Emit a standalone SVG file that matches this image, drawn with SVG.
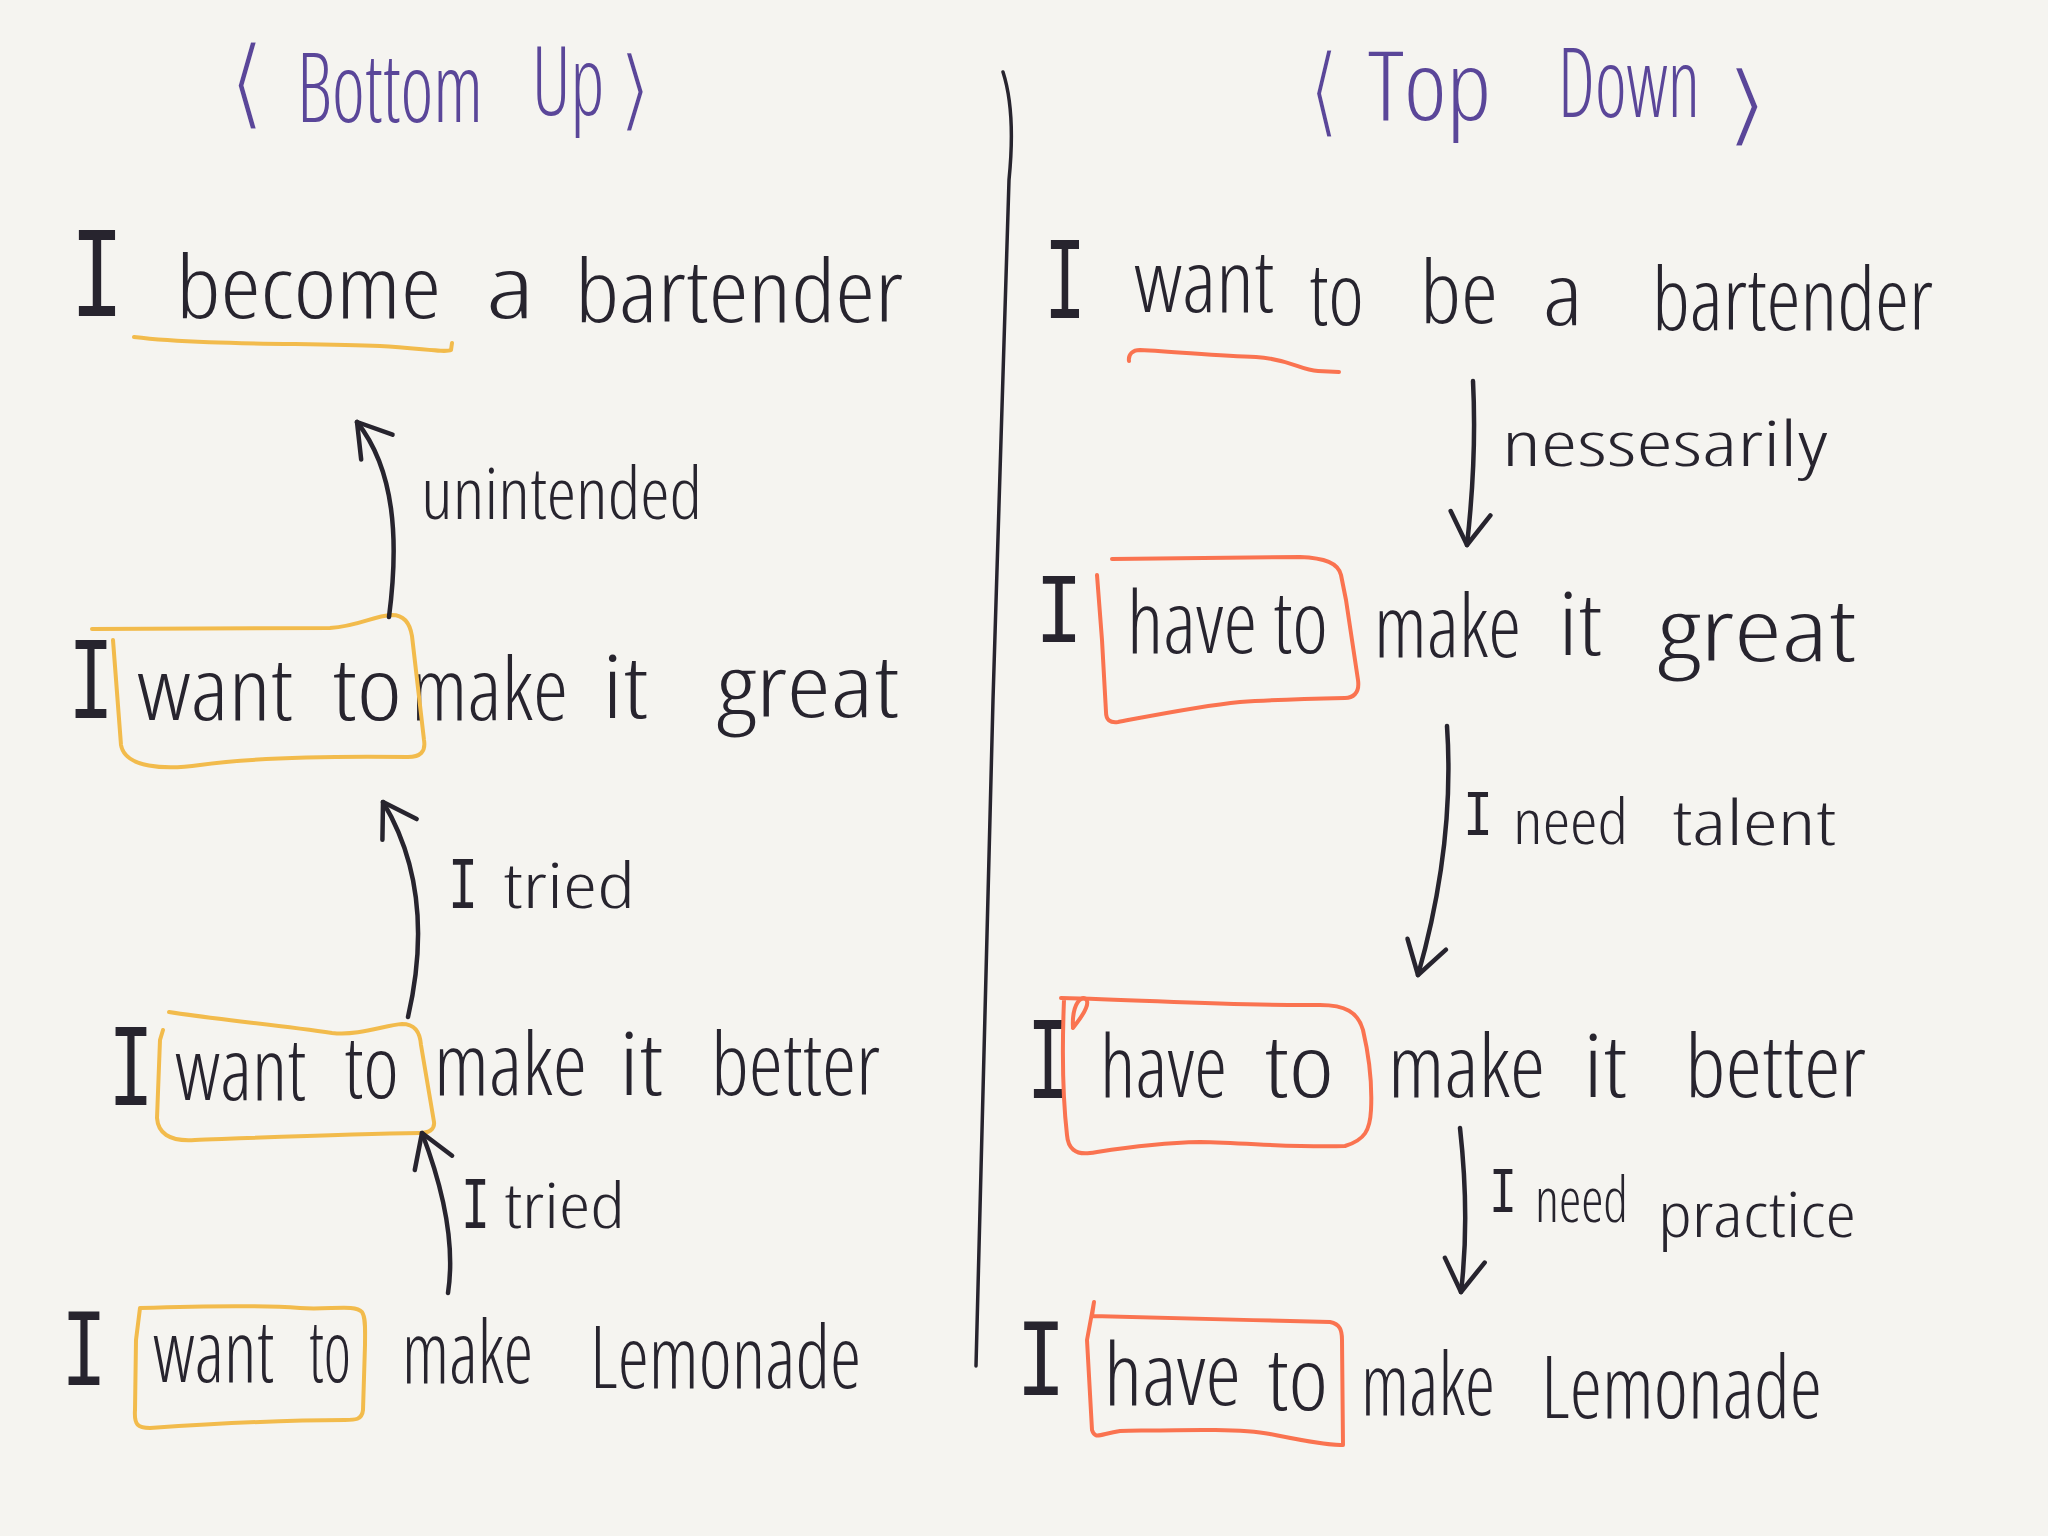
<svg xmlns="http://www.w3.org/2000/svg" width="2048" height="1536" viewBox="0 0 2048 1536">
<style>
.ink{font-family:"Open Sans","Liberation Sans",sans-serif;font-weight:300;font-stretch:75%;fill:#27242e}
.title{font-family:"Open Sans","Liberation Sans",sans-serif;font-weight:300;font-stretch:75%;fill:#5a4699}
.brk{font-family:"DejaVu Sans",sans-serif;font-weight:400;font-stretch:normal;stroke:#f5f4f0;stroke-width:3;paint-order:fill}
.cap{font-family:"Liberation Mono",monospace;font-weight:400;font-stretch:normal}
.big{font-size:86px}
.lbl{font-size:62px}
.yel{fill:none;stroke:#f2bb4c;stroke-width:4;stroke-linecap:round;stroke-linejoin:round}
.red{fill:none;stroke:#fa7350;stroke-width:4;stroke-linecap:round;stroke-linejoin:round}
.edge{fill:none;stroke:#27242e;stroke-width:4.5;stroke-linecap:round}
</style>
<defs>
<marker id="head" markerUnits="userSpaceOnUse" markerWidth="80" markerHeight="80" viewBox="-40 -40 80 80" refX="0" refY="0" orient="auto">
<path d="M-32,-20 L0,0 L-32,20" fill="none" stroke="#27242e" stroke-width="4.5" stroke-linecap="round" stroke-linejoin="round"/>
</marker>
</defs>
<rect width="2048" height="1536" fill="#f5f4f0"/>

<g id="divider">
<path d="M1003,72 C1012,100 1013,140 1009,180 L993,700 L976,1366" fill="none" stroke="#27242e" stroke-width="3.5" stroke-linecap="round"/>
</g>

<g id="bu-title">
<text class="title" font-size="96"><tspan class="brk" x="229" y="117" font-size="100" textLength="36" lengthAdjust="spacingAndGlyphs">⟨</tspan><tspan x="297" y="122" textLength="186" lengthAdjust="spacingAndGlyphs">Bottom</tspan><tspan x="532" y="115" textLength="72" lengthAdjust="spacingAndGlyphs">Up</tspan><tspan class="brk" x="618" y="120" font-size="90" textLength="34" lengthAdjust="spacingAndGlyphs">⟩</tspan></text>
</g>

<g id="td-title">
<text class="title" font-size="96"><tspan class="brk" x="1309" y="125" font-size="100" textLength="30" lengthAdjust="spacingAndGlyphs">⟨</tspan><tspan x="1368" y="120" textLength="123" lengthAdjust="spacingAndGlyphs">Top</tspan><tspan x="1558" y="117" textLength="142" lengthAdjust="spacingAndGlyphs">Down</tspan><tspan class="brk" x="1724" y="135" font-size="90" textLength="46" lengthAdjust="spacingAndGlyphs">⟩</tspan></text>
</g>

<g id="bu-bartender">
<text class="ink big"><tspan class="cap" x="70" y="316" font-size="130" textLength="54" lengthAdjust="spacingAndGlyphs">I</tspan><tspan x="176" y="318" textLength="265" lengthAdjust="spacingAndGlyphs">become</tspan><tspan x="486" y="318" textLength="49" lengthAdjust="spacingAndGlyphs">a</tspan><tspan x="575" y="322" textLength="328" lengthAdjust="spacingAndGlyphs">bartender</tspan></text>
<path class="yel" d="M134,337 C200,345 300,343 380,346 C420,348 445,353 451,350 L452,343"/>
</g>

<g id="bu-great">
<text class="ink big"><tspan class="cap" x="68" y="718" font-size="118" textLength="46" lengthAdjust="spacingAndGlyphs">I</tspan><tspan x="137" y="720" textLength="156" lengthAdjust="spacingAndGlyphs">want</tspan><tspan x="332" y="720" textLength="70" lengthAdjust="spacingAndGlyphs">to</tspan><tspan x="411" y="720" textLength="157" lengthAdjust="spacingAndGlyphs">make</tspan><tspan x="602" y="718" textLength="46" lengthAdjust="spacingAndGlyphs">it</tspan><tspan x="717" y="717" textLength="182" lengthAdjust="spacingAndGlyphs">great</tspan></text>
<path class="yel" d="M92,629 L330,628 C360,626 372,616 392,615 C404,615 410,624 412,636 L424,740 C426,752 420,757 408,757 C330,756 250,758 200,765 C165,770 125,768 121,745 L113,640"/>
</g>

<g id="bu-better">
<text class="ink big"><tspan class="cap" x="108" y="1105" font-size="118" textLength="46" lengthAdjust="spacingAndGlyphs">I</tspan><tspan x="175" y="1100" textLength="131" lengthAdjust="spacingAndGlyphs">want</tspan><tspan x="344" y="1098" textLength="55" lengthAdjust="spacingAndGlyphs">to</tspan><tspan x="434" y="1095" textLength="153" lengthAdjust="spacingAndGlyphs">make</tspan><tspan x="619" y="1095" textLength="44" lengthAdjust="spacingAndGlyphs">it</tspan><tspan x="711" y="1095" textLength="169" lengthAdjust="spacingAndGlyphs">better</tspan></text>
<path class="yel" d="M169,1012 C220,1020 280,1025 332,1033 C360,1036 385,1025 402,1024 C415,1024 420,1032 421,1045 L434,1122 C435,1130 428,1133 420,1133 C350,1134 250,1138 195,1140 C168,1142 158,1132 157,1118 L160,1040 L163,1030"/>
</g>

<g id="bu-lemonade">
<text class="ink big"><tspan class="cap" x="61" y="1385" font-size="112" textLength="46" lengthAdjust="spacingAndGlyphs">I</tspan><tspan x="153" y="1382" textLength="121" lengthAdjust="spacingAndGlyphs">want</tspan><tspan x="309" y="1382" textLength="42" lengthAdjust="spacingAndGlyphs">to</tspan><tspan x="402" y="1383" textLength="131" lengthAdjust="spacingAndGlyphs">make</tspan><tspan x="590" y="1388" textLength="271" lengthAdjust="spacingAndGlyphs">Lemonade</tspan></text>
<path class="yel" d="M140,1308 C200,1306 260,1305 300,1308 C330,1310 355,1304 362,1312 C366,1318 365,1330 365,1345 L363,1410 C362,1420 355,1420 345,1420 C280,1420 210,1424 150,1428 C138,1428 134,1425 135,1410 L136,1340 L140,1308"/>
</g>

<g id="td-bartender">
<text class="ink big"><tspan class="cap" x="1044" y="318" font-size="118" textLength="42" lengthAdjust="spacingAndGlyphs">I</tspan><tspan x="1134" y="312" textLength="140" lengthAdjust="spacingAndGlyphs">want</tspan><tspan x="1309" y="325" textLength="55" lengthAdjust="spacingAndGlyphs">to</tspan><tspan x="1420" y="323" textLength="78" lengthAdjust="spacingAndGlyphs">be</tspan><tspan x="1543" y="325" textLength="40" lengthAdjust="spacingAndGlyphs">a</tspan><tspan x="1652" y="330" textLength="281" lengthAdjust="spacingAndGlyphs">bartender</tspan></text>
<path class="red" d="M1129,361 C1128,354 1133,350 1140,350 C1180,352 1220,356 1256,357 C1290,359 1300,370 1318,371 L1339,372"/>
</g>

<g id="td-great">
<text class="ink big"><tspan class="cap" x="1035" y="642" font-size="100" textLength="48" lengthAdjust="spacingAndGlyphs">I</tspan><tspan x="1127" y="653" textLength="201" lengthAdjust="spacingAndGlyphs">have to</tspan><tspan x="1374" y="657" textLength="147" lengthAdjust="spacingAndGlyphs">make</tspan><tspan x="1558" y="655" textLength="44" lengthAdjust="spacingAndGlyphs">it</tspan><tspan x="1658" y="661" textLength="198" lengthAdjust="spacingAndGlyphs">great</tspan></text>
<path class="red" d="M1112,559 L1300,557 C1325,558 1338,563 1341,575 L1346,600 L1358,680 C1360,694 1352,698 1345,698 C1300,699 1270,700 1240,702 C1200,706 1150,716 1118,722 C1110,723 1106,720 1106,712 L1102,640 L1097,575"/>
</g>

<g id="td-better">
<text class="ink big"><tspan class="cap" x="1027" y="1098" font-size="118" textLength="42" lengthAdjust="spacingAndGlyphs">I</tspan><tspan x="1100" y="1097" textLength="127" lengthAdjust="spacingAndGlyphs">have</tspan><tspan x="1264" y="1097" textLength="70" lengthAdjust="spacingAndGlyphs">to</tspan><tspan x="1388" y="1097" textLength="157" lengthAdjust="spacingAndGlyphs">make</tspan><tspan x="1583" y="1097" textLength="44" lengthAdjust="spacingAndGlyphs">it</tspan><tspan x="1685" y="1097" textLength="181" lengthAdjust="spacingAndGlyphs">better</tspan></text>
<path class="red" d="M1061,998 C1150,1000 1230,1006 1320,1005 C1345,1005 1358,1012 1363,1030 C1370,1060 1372,1090 1371,1110 C1370,1130 1365,1140 1345,1146 C1300,1148 1250,1143 1200,1142 C1150,1143 1110,1150 1090,1153 C1075,1155 1068,1148 1067,1135 C1063,1100 1062,1050 1064,1000"/>
<path class="red" d="M1073,1028 C1072,1012 1076,1002 1081,999 C1086,996 1089,1001 1086,1008 C1083,1016 1077,1022 1073,1028"/>
</g>

<g id="td-lemonade">
<text class="ink big"><tspan class="cap" x="1016" y="1395" font-size="112" textLength="50" lengthAdjust="spacingAndGlyphs">I</tspan><tspan x="1104" y="1405" textLength="137" lengthAdjust="spacingAndGlyphs">have</tspan><tspan x="1267" y="1410" textLength="61" lengthAdjust="spacingAndGlyphs">to</tspan><tspan x="1361" y="1415" textLength="134" lengthAdjust="spacingAndGlyphs">make</tspan><tspan x="1541" y="1418" textLength="281" lengthAdjust="spacingAndGlyphs">Lemonade</tspan></text>
<path class="red" d="M1094,1302 L1092,1316 C1160,1318 1250,1320 1330,1322 C1340,1324 1342,1330 1342,1340 L1343,1445 C1330,1446 1300,1440 1270,1434 C1240,1428 1180,1430 1120,1431 C1100,1434 1095,1440 1092,1430 L1087,1340 L1094,1302"/>
</g>

<g id="connectors">
<path class="edge" d="M389,617 C399,540 395,470 357,422" marker-end="url(#head)"/>
<path class="edge" d="M408,1017 C428,930 418,860 383,802" marker-end="url(#head)"/>
<path class="edge" d="M448,1293 C456,1240 440,1180 422,1133" marker-end="url(#head)"/>
<path class="edge" d="M1473,381 C1476,440 1472,500 1467,545" marker-end="url(#head)"/>
<path class="edge" d="M1447,726 C1452,800 1445,880 1418,975" marker-end="url(#head)"/>
<path class="edge" d="M1460,1128 C1468,1200 1466,1250 1461,1292" marker-end="url(#head)"/>
<text class="ink" font-size="72" x="421" y="519" textLength="281" lengthAdjust="spacingAndGlyphs">unintended</text>
<text class="ink lbl"><tspan class="cap" x="448" y="908" font-size="74" textLength="30" lengthAdjust="spacingAndGlyphs">I</tspan><tspan x="503" y="908" textLength="132" lengthAdjust="spacingAndGlyphs">tried</tspan></text>
<text class="ink lbl"><tspan class="cap" x="461" y="1228" font-size="74" textLength="29" lengthAdjust="spacingAndGlyphs">I</tspan><tspan x="504" y="1228" textLength="121" lengthAdjust="spacingAndGlyphs">tried</tspan></text>
<text class="ink lbl" x="1502" y="466" textLength="326" lengthAdjust="spacingAndGlyphs">nessesarily</text>
<text class="ink lbl"><tspan class="cap" x="1463" y="835" font-size="64" textLength="30" lengthAdjust="spacingAndGlyphs">I</tspan><tspan x="1513" y="844" textLength="115" lengthAdjust="spacingAndGlyphs">need</tspan><tspan x="1672" y="845" textLength="164" lengthAdjust="spacingAndGlyphs">talent</tspan></text>
<text class="ink lbl"><tspan class="cap" x="1489" y="1212" font-size="64" textLength="28" lengthAdjust="spacingAndGlyphs">I</tspan><tspan x="1535" y="1222" textLength="93" lengthAdjust="spacingAndGlyphs">need</tspan><tspan x="1658" y="1237" textLength="198" lengthAdjust="spacingAndGlyphs">practice</tspan></text>
</g>
</svg>
